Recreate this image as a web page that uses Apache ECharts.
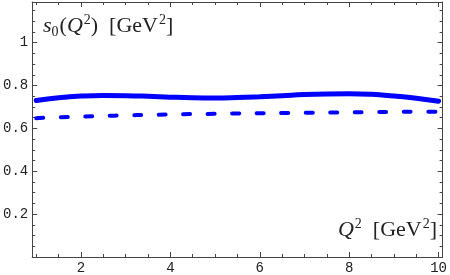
<!DOCTYPE html>
<html>
<head>
<meta charset="utf-8">
<script src="https://cdn.jsdelivr.net/npm/echarts@6/dist/echarts.min.js"></script>
<style>
html,body{margin:0;padding:0;background:#fff;}
#c{width:450px;height:275px;}
</style>
</head>
<body>
<div id="c"></div>
<script>
// Data
var q2 = [1, 1.5, 2, 2.5, 3, 3.5, 4, 4.5, 5, 5.5, 6, 6.5, 7, 7.5, 8, 8.5, 9, 9.5, 10];
var s0Solid = [0.730, 0.743, 0.751, 0.754, 0.753, 0.750, 0.746, 0.743, 0.742, 0.744, 0.748, 0.753, 0.758, 0.761, 0.762, 0.759, 0.751, 0.741, 0.727];
var s0Dashed = [0.648, 0.652, 0.655, 0.658, 0.661, 0.663, 0.665, 0.667, 0.668, 0.670, 0.671, 0.672, 0.673, 0.674, 0.675, 0.676, 0.677, 0.678, 0.678];
var xMajor = [2, 4, 6, 8, 10];
var xMinor = [1, 1.5, 2.5, 3, 3.5, 4.5, 5, 5.5, 6.5, 7, 7.5, 8.5, 9, 9.5];
var yMajor = [0.2, 0.4, 0.6, 0.8, 1];
var yMinor = [0.05, 0.1, 0.15, 0.25, 0.3, 0.35, 0.45, 0.5, 0.55, 0.65, 0.7, 0.75, 0.85, 0.9, 0.95, 1.05, 1.1, 1.15];
var xRange = [0.91, 10.09];
var yRange = [0, 1.19];

function pairs(xs, ys) { return xs.map(function (x, i) { return [x, ys[i]]; }); }

var frameColor = '#444';
var monoFont = 'Liberation Mono';

function xAx(pos, ticks, len, showLine, labels) {
  return {
    type: 'value', position: pos, min: xRange[0], max: xRange[1],
    axisLine: { show: showLine, onZero: false, lineStyle: { color: frameColor, width: 1 } },
    axisTick: { show: true, inside: true, length: len, customValues: ticks, lineStyle: { color: frameColor, width: 1 } },
    axisLabel: labels ? { show: true, customValues: ticks, margin: 4, fontFamily: monoFont, fontSize: 14, color: '#222', formatter: function (v) { return String(v); } } : { show: false },
    splitLine: { show: false }
  };
}
function yAx(pos, ticks, len, showLine, labels) {
  return {
    type: 'value', position: pos, min: yRange[0], max: yRange[1],
    axisLine: { show: showLine, onZero: false, lineStyle: { color: frameColor, width: 1 } },
    axisTick: { show: true, inside: true, length: len, customValues: ticks, lineStyle: { color: frameColor, width: 1 } },
    axisLabel: labels ? { show: true, customValues: ticks, margin: 4, fontFamily: monoFont, fontSize: 14, color: '#222', formatter: function (v) { return String(Math.round(v * 100) / 100); } } : { show: false },
    splitLine: { show: false }
  };
}

var serif = '"Liberation Serif", "DejaVu Serif", serif';
var richStyles = {
  i: { fontFamily: serif, fontStyle: 'italic', fontSize: 22, fill: '#222', lineHeight: 26, verticalAlign: 'middle' },
  r: { fontFamily: serif, fontSize: 22, fill: '#222', lineHeight: 26, verticalAlign: 'middle' },
  sup: { fontFamily: serif, fontSize: 14, fill: '#222', lineHeight: 14, verticalAlign: 'top', padding: [0, 0, 0, 1] },
  sub: { fontFamily: serif, fontSize: 14, fill: '#222', lineHeight: 12, verticalAlign: 'bottom', padding: [0, 1, 0, 0] }
};

var chart = echarts.init(document.getElementById('c'), null, { renderer: 'canvas' });
chart.setOption({
  animation: false,
  backgroundColor: '#fff',
  textStyle: { fontFamily: monoFont },
  grid: { left: 32, right: 5, top: 2, bottom: 18, containLabel: false },
  xAxis: [
    xAx('bottom', xMajor, 5, true, true),
    xAx('bottom', xMinor, 3, false, false),
    xAx('top', xMajor, 5, true, false),
    xAx('top', xMinor, 3, false, false)
  ],
  yAxis: [
    yAx('left', yMajor, 5, true, true),
    yAx('left', yMinor, 3, false, false),
    yAx('right', yMajor, 5, true, false),
    yAx('right', yMinor, 3, false, false)
  ],
  series: [
    {
      type: 'line', xAxisIndex: 0, yAxisIndex: 0, data: pairs(q2, s0Solid),
      smooth: true, showSymbol: false,
      lineStyle: { color: '#0000ff', width: 5, cap: 'round' }
    },
    {
      type: 'line', xAxisIndex: 0, yAxisIndex: 0, data: pairs(q2, s0Dashed),
      smooth: true, showSymbol: false,
      lineStyle: { color: '#0000ff', width: 4, type: [7, 17.5], cap: 'round' }
    }
  ],
  graphic: [
    {
      type: 'text', left: 43, top: 13,
      style: {
        text: '{i|s}{sub|0}{r|(}{i|Q}{sup|2}{r|)  [GeV}{sup|2}{r|]}',
        fill: '#222',
        rich: richStyles
      }
    },
    {
      type: 'text', right: 13, top: 217,
      style: {
        text: '{i|Q}{sup|2}{r|  [GeV}{sup|2}{r|]}',
        fill: '#222',
        rich: richStyles
      }
    }
  ]
});
</script>
</body>
</html>
